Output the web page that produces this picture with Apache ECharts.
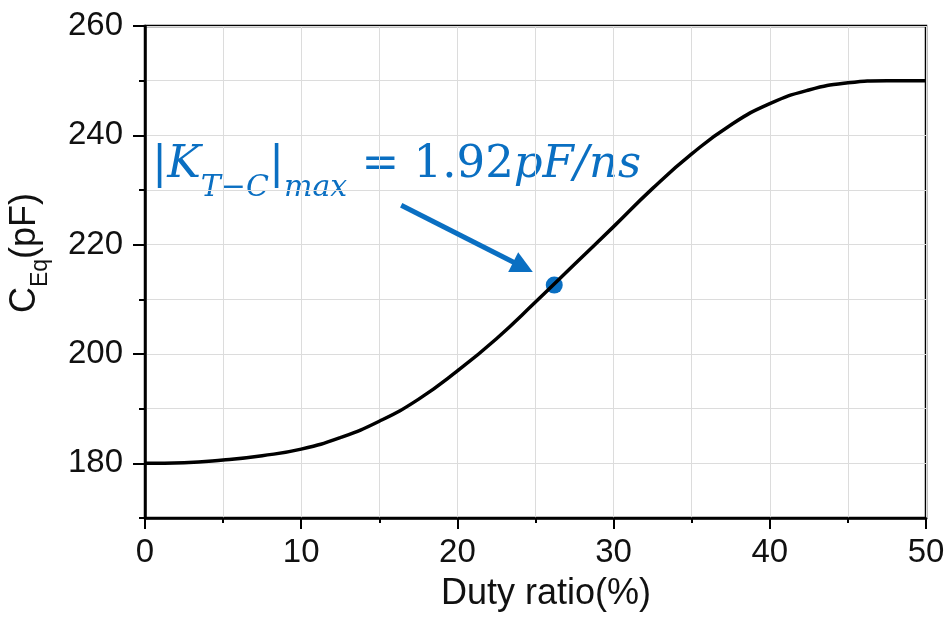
<!DOCTYPE html>
<html>
<head>
<meta charset="utf-8">
<title>C_Eq vs duty ratio</title>
<script src="https://cdn.jsdelivr.net/npm/echarts@6/dist/echarts.min.js"></script>
<style>
  html, body { margin: 0; padding: 0; background: #fff; }
  #chart { width: 952px; height: 623px; }
</style>
</head>
<body>
<div id="chart"></div>
<script>
// duty ratio (%) and equivalent capacitance (pF)
var dutyRatio = [0, 2.5, 5, 7.5, 10, 12.5, 15, 17.5, 20, 22.5, 25, 27.5, 30, 32.5, 35, 37.5, 40, 42.5, 45, 47.5, 50];
var capacitance = [180, 180.1, 180.6, 181.4, 182.6, 184.7, 187.7, 191.7, 196.9, 202.8, 209.5, 216.4, 223.3, 230.3, 236.6, 241.9, 245.8, 248.3, 249.6, 250.0, 250.0];

// point of max slope and the arrow pointing to it
var keyPoint = [26.2, 212.6];
var arrowStart = [16.4, 227.2];
var arrowEnd = [24.2, 215.9];

// tick labels
var xTicks = [0, 10, 20, 30, 40, 50];
var yTicks = [180, 200, 220, 240, 260];

var chart = echarts.init(document.getElementById('chart'));

var blue = '#0A6FC2';
var axisFont = 'Liberation Sans, Arial, sans-serif';
var mathFont = 'DejaVu Serif, serif';

var curve = dutyRatio.map(function (d, i) { return [d, capacitance[i]]; });

var option = {
  animation: false,
  grid: {
    left: 145, right: 26, top: 26, bottom: 105,
    show: true, borderColor: '#000', borderWidth: 2.5
  },
  xAxis: {
    type: 'value', min: 0, max: 50, interval: 10,
    axisLine: { lineStyle: { color: '#000', width: 2.5 } },
    axisTick: { length: 11, lineStyle: { color: '#000', width: 2 } },
    minorTick: { show: true, splitNumber: 2, length: 5, lineStyle: { color: '#000', width: 2 } },
    splitLine: { show: true, lineStyle: { color: '#dcdcdc', width: 1 } },
    minorSplitLine: { show: true, lineStyle: { color: '#dcdcdc', width: 1 } },
    axisLabel: {
      margin: 18, fontSize: 33, color: '#111', fontFamily: axisFont,
      customValues: xTicks
    }
  },
  yAxis: [{
    type: 'value', min: 170, max: 260, interval: 10,
    axisLine: { show: true, lineStyle: { color: '#000', width: 2.5 } },
    axisTick: { show: true, length: 6, lineStyle: { color: '#000', width: 2 } },
    splitLine: { show: true, lineStyle: { color: '#dcdcdc', width: 1 } },
    axisLabel: { show: false }
  }, {
    type: 'value', min: 170, max: 260, position: 'left', offset: 0,
    axisLine: { show: false },
    axisTick: { show: true, length: 12, customValues: yTicks, lineStyle: { color: '#000', width: 2 } },
    splitLine: { show: false },
    axisLabel: {
      margin: 22, fontSize: 33, color: '#111', fontFamily: axisFont,
      customValues: yTicks
    }
  }],
  series: [{
    type: 'line',
    data: curve,
    smooth: 0.5,
    showSymbol: false,
    lineStyle: { color: '#000', width: 3.5 },
    silent: true
  }, {
    type: 'scatter',
    data: [keyPoint],
    symbolSize: 17,
    itemStyle: { color: blue, opacity: 1 },
    silent: true,
    markLine: {
      silent: true,
      symbol: ['none', 'triangle'],
      symbolSize: 22,
      label: { show: false },
      lineStyle: { color: blue, width: 5, type: 'solid', opacity: 1 },
      data: [[{ coord: arrowStart }, { coord: arrowEnd }]]
    }
  }],
  graphic: [{
    type: 'text',
    left: 152, top: 143,
    style: {
      text: '{n||}{i|K}{s|T\u2212C}{n||}{s|max}{n| = 1.92}{i|pF/ns}',
      fill: blue,
      rich: {
        n: { fontFamily: mathFont, fontSize: 45, fill: blue, verticalAlign: 'bottom', padding: [0, 0, 15, 0] },
        i: { fontFamily: mathFont, fontStyle: 'italic', fontSize: 45, fill: blue, verticalAlign: 'bottom', padding: [0, 0, 15, 0] },
        s: { fontFamily: mathFont, fontStyle: 'italic', fontSize: 30, fill: blue, verticalAlign: 'bottom' }
      }
    }
  }, {
    type: 'text',
    x: 30, y: 253,
    rotation: Math.PI / 2,
    style: {
      text: '{n|C}{s|Eq}{n|(pF)}',
      align: 'center',
      verticalAlign: 'middle',
      fill: '#111',
      rich: {
        n: { fontFamily: axisFont, fontSize: 36, fill: '#111', verticalAlign: 'bottom', padding: [0, 0, 9, 0] },
        s: { fontFamily: axisFont, fontSize: 23, fill: '#111', verticalAlign: 'bottom' }
      }
    }
  }, {
    type: 'text',
    x: 546, y: 594,
    style: {
      text: 'Duty ratio(%)',
      align: 'center',
      verticalAlign: 'middle',
      fontFamily: axisFont,
      fontSize: 36,
      fill: '#111'
    }
  }]
};

chart.setOption(option);
</script>
</body>
</html>
